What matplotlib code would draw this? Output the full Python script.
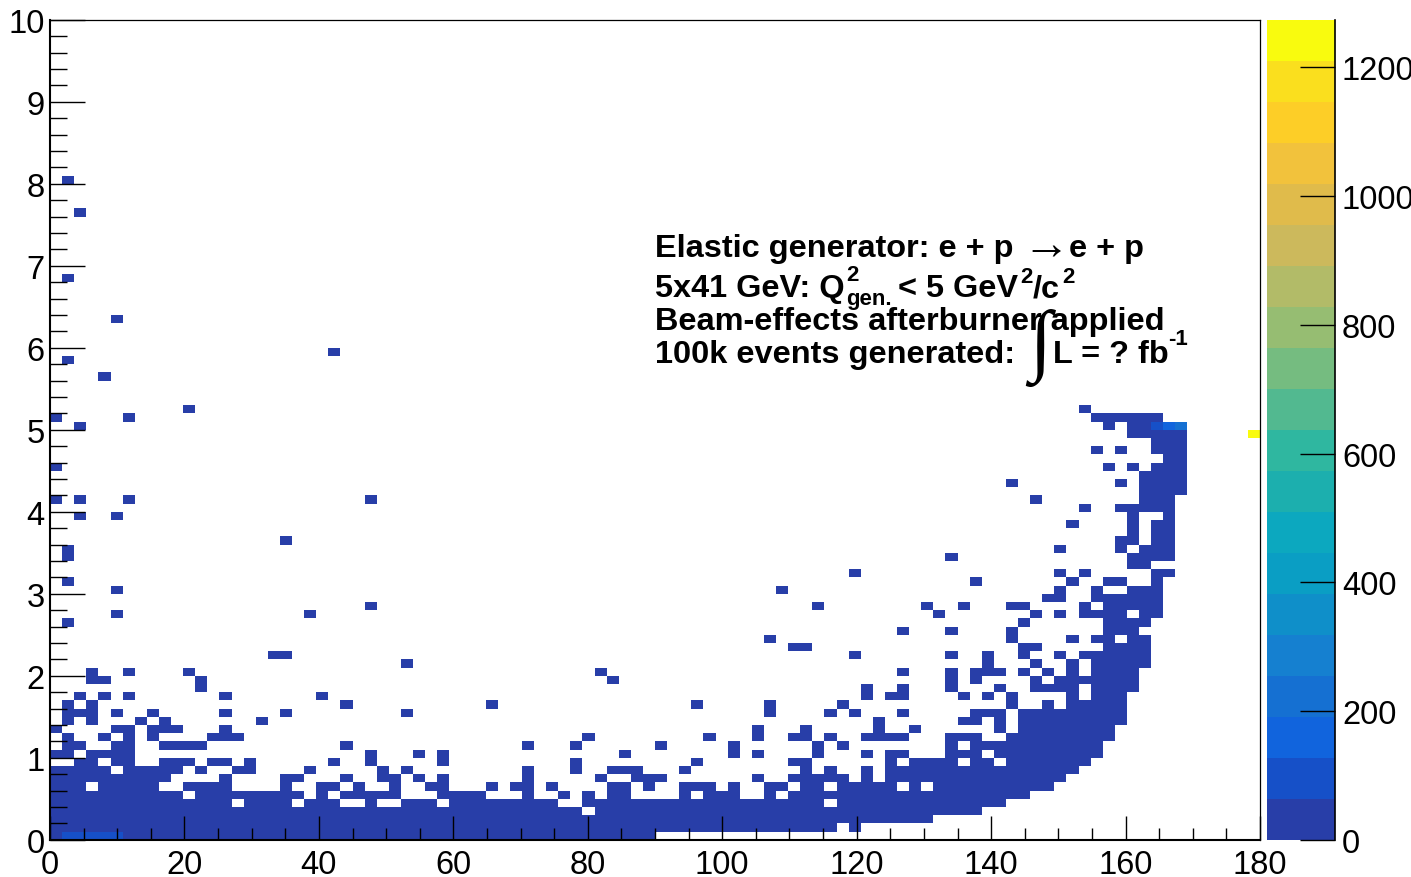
import numpy as np
import matplotlib
matplotlib.use('Agg')
import matplotlib.pyplot as plt
from matplotlib.colors import ListedColormap, BoundaryNorm

plt.rcParams['font.family'] = ['Liberation Sans', 'DejaVu Sans']

W, H = 1411, 878

# occupied bins per row, as (first column, last column)
runs_bottom = [
    [(0, 49)],
    [(0, 64), (66, 66)],
    [(0, 72)],
    [(0, 43), (45, 76)],
    [(0, 14), (16, 19), (21, 23), (26, 26), (29, 31), (33, 41), (44, 63), (65, 78)],
    [(0, 10), (12, 20), (22, 22), (24, 28), (32, 35), (39, 39), (42, 42), (44, 44), (46, 47), (52, 52), (54, 56), (59, 59), (61, 80)],
    [(0, 2), (4, 8), (11, 14), (19, 19), (22, 23), (25, 25), (28, 28), (31, 32), (36, 36), (38, 39), (41, 41), (46, 47), (49, 49), (52, 54), (56, 56), (59, 60), (62, 63), (65, 69), (71, 71), (73, 82)],
    [(0, 9), (14, 14), (19, 20), (24, 24), (27, 28), (30, 30), (32, 32), (39, 39), (45, 45), (48, 50), (58, 58), (61, 65), (67, 67), (69, 83)],
    [(0, 4), (6, 10), (12, 12), (15, 16), (21, 21), (27, 27), (29, 29), (39, 39), (43, 43), (46, 48), (52, 52), (62, 62), (64, 64), (67, 67), (69, 84)],
    [(2, 3), (5, 6), (9, 11), (13, 14), (16, 16), (23, 23), (26, 26), (32, 32), (43, 43), (53, 53), (61, 62), (69, 69), (71, 74), (76, 77), (79, 85)],
    [(0, 1), (3, 6), (26, 26), (30, 30), (32, 32), (47, 47), (56, 56), (58, 58), (63, 63), (67, 67), (69, 70), (74, 76), (78, 86)],
    [(1, 2), (5, 6), (9, 12), (24, 24), (39, 39), (43, 43), (50, 50), (56, 56), (63, 63), (65, 65), (74, 74), (76, 86)],
    [(1, 1), (4, 4), (6, 6), (8, 8), (13, 15), (44, 44), (54, 54), (58, 58), (61, 62), (64, 64), (67, 70), (74, 76), (79, 87)],
    [(0, 0), (5, 6), (8, 10), (14, 14), (58, 58), (62, 62), (68, 68), (71, 71), (78, 78), (80, 87)],
    [(1, 1), (3, 3), (7, 7), (9, 9), (17, 17), (68, 68), (75, 76), (78, 78), (80, 88)],
    [(1, 3), (5, 5), (8, 8), (14, 14), (19, 19), (29, 29), (59, 59), (64, 64), (66, 66), (70, 70), (76, 78), (80, 88)],
    [(1, 1), (3, 3), (24, 24), (36, 36), (53, 53), (59, 59), (65, 65), (79, 79), (82, 82), (84, 88)],
    [(2, 2), (4, 4), (6, 6), (14, 14), (22, 22), (67, 67), (69, 70), (75, 75), (77, 77), (79, 79), (84, 84), (86, 88)],
    [(12, 12), (67, 67), (70, 70), (74, 74), (78, 78), (81, 84), (86, 89)],
    [(3, 4), (12, 12), (46, 46), (74, 74), (76, 76), (81, 81), (83, 89)],
    [(3, 3), (6, 6), (11, 11), (45, 45), (70, 70), (74, 74), (76, 78), (80, 80), (82, 82), (84, 84), (86, 89)],
    [(29, 29), (77, 77), (81, 81), (84, 84), (86, 90)],
    [(18, 19), (66, 66), (74, 74), (77, 77), (80, 80), (83, 83), (85, 90)],
]

# rows 23 to 52
runs_middle = [
    [(61, 62), (80, 81), (87, 90)],
    [(59, 59), (79, 79), (84, 84), (86, 87), (89, 90)],
    [(70, 70), (74, 74), (79, 79), (87, 89)],
    [(1, 1), (80, 80), (87, 90)],
    [(5, 5), (21, 21), (73, 73), (81, 81), (83, 83), (85, 88), (90, 91)],
    [(26, 26), (63, 63), (72, 72), (75, 75), (79, 80), (85, 85), (87, 91)],
    [(82, 83), (86, 91)],
    [(5, 5), (60, 60), (83, 83), (86, 86), (89, 91)],
    [(1, 1), (76, 76), (84, 84), (87, 88), (91, 91)],
    [(66, 66), (83, 83), (85, 85), (91, 92)],
    [(89, 90)],
    [(1, 1), (74, 74), (89, 92)],
    [(1, 1), (83, 83), (88, 88), (90, 92)],
    [(19, 19), (88, 89), (91, 92)],
    [(89, 89), (91, 92)],
    [(84, 84), (89, 89), (91, 92)],
    [(2, 2), (5, 5), (89, 89), (92, 92)],
    [(85, 85), (88, 92)],
    [(0, 0), (2, 2), (6, 6), (26, 26), (81, 81), (90, 92)],
    [(90, 93)],
    [(79, 79), (88, 88), (90, 93)],
    [(90, 93)],
    [(0, 0), (87, 87), (89, 89), (91, 93)],
    [(92, 93)],
    [(86, 86), (88, 88), (91, 93)],
    [(91, 93)],
    [(89, 93)],
    [(2, 2), (87, 87), (89, 93)],
    [(0, 0), (6, 6), (86, 91)],
    [(11, 11), (85, 85)],
]

# lone bins above the bulk, (column, row)
single_bins = [(4, 56), (1, 58), (23, 59), (5, 63), (1, 68), (2, 76), (1, 80)]

# bins with more than a handful of entries, (column, row, entries)
high_bins = [(1, 0, 100), (2, 0, 100), (3, 0, 100), (4, 0, 100), (5, 0, 100),
             (91, 50, 100), (92, 50, 160), (93, 50, 230), (99, 49, 1260)]
low_entries = 15

n_bins = 100
x_max, y_max = 180, 10
z_max = 1274

band_colors = ['#283ea8', '#1650c8', '#1164dd', '#1570d2', '#1580d0', '#0f8fc9', '#0a9ec4',
               '#0ca8bf', '#1cafae', '#2fb7a0', '#52b990', '#75bc80', '#96bd72', '#b2bb68',
               '#ccb95c', '#e0bb4b', '#f2c23c', '#fdce27', '#fadf1e', '#f9fb0e']

x_ticks = [0, 20, 40, 60, 80, 100, 120, 140, 160, 180]
y_ticks = [0, 1, 2, 3, 4, 5, 6, 7, 8, 9, 10]
z_ticks = [0, 200, 400, 600, 800, 1000, 1200]

counts = np.zeros((n_bins, n_bins))
for row, runs in enumerate(runs_bottom + runs_middle):
    for first, last in runs:
        counts[row, first:last + 1] = low_entries
for col, row in single_bins:
    counts[row, col] = low_entries
for col, row, val in high_bins:
    counts[row, col] = val

x_edges = np.linspace(0, x_max, n_bins + 1)
y_edges = np.linspace(0, y_max, n_bins + 1)
levels = np.linspace(0, z_max, len(band_colors) + 1)
cmap = ListedColormap(band_colors)
norm = BoundaryNorm(levels, cmap.N)

fig = plt.figure(figsize=(W / 100, H / 100), dpi=100)


def box(x0, y0, x1, y1):
    return [x0 / W, 1 - y1 / H, (x1 - x0) / W, (y1 - y0) / H]


def put(x, y, s, **kw):
    fig.text(x / W, 1 - y / H, s, va='baseline', **kw)


ax = fig.add_axes(box(50, 20.8, 1260, 840.8))
ax.pcolormesh(x_edges, y_edges, np.ma.masked_equal(counts, 0), cmap=cmap, norm=norm)
ax.set_xlim(0, x_max)
ax.set_ylim(0, y_max)
ax.set_xticks(x_ticks)
ax.set_yticks(y_ticks)
ax.set_xticks(np.arange(0, x_max + 1, 5), minor=True)
ax.set_yticks(np.arange(0, y_max + 0.1, 0.2), minor=True)
ax.tick_params(which='major', direction='in', width=1.0, labelsize=23.5)
ax.tick_params(axis='x', which='major', length=17, pad=6.5)
ax.tick_params(axis='y', which='major', length=25, pad=4)
ax.tick_params(axis='x', which='minor', direction='in', length=8.5, width=1.0)
ax.tick_params(axis='y', which='minor', direction='in', length=12.5, width=1.0)
for side in ['left', 'bottom']:
    ax.spines[side].set_linewidth(1.5)
for side in ['top', 'right']:
    ax.spines[side].set_linewidth(0.9)

cax = fig.add_axes(box(1267, 20.8, 1335, 840.8))
cax.pcolormesh([0, 1], levels, np.array(levels[:-1] + 1).reshape(-1, 1), cmap=cmap, norm=norm)
cax.set_xlim(0, 1)
cax.set_ylim(0, z_max)
cax.set_xticks([])
cax.yaxis.tick_right()
cax.set_yticks(z_ticks)
cax.tick_params(axis='y', direction='in', length=25, width=1.0, labelsize=23.5, pad=5)
for side in ['left', 'top', 'bottom']:
    cax.spines[side].set_visible(False)
cax.spines['right'].set_linewidth(1.2)

# TLatex labels, placed piece by piece
bold = dict(fontsize=23.4, fontweight='bold', color='black')
small = dict(fontsize=16, fontweight='bold', color='black')
put(655, 257, 'Elastic generator: e + p', **bold)
put(1022, 259, '\u2192', fontsize=34, color='black', family='Liberation Serif')
put(1069, 257, 'e + p', **bold)
put(655, 297, '5x41 GeV: Q', **bold)
put(846, 281, '2', **small)
put(846, 305, 'gen.', **small)
put(898, 297, '< 5 GeV', **bold)
put(1020, 283, '2', **small)
put(1033, 297, '/c', **bold)
put(1062, 283, '2', **small)
put(655, 330, 'Beam-effects afterburner applied', **bold)
put(655, 363, '100k events generated:', **bold)
put(1029, 366, '\u222b', fontsize=57.5, color='black', family='Liberation Serif')
put(1053, 363, 'L = ? fb', **bold)
put(1168, 345, '-1', **small)

fig.savefig('out.png', dpi=100)
